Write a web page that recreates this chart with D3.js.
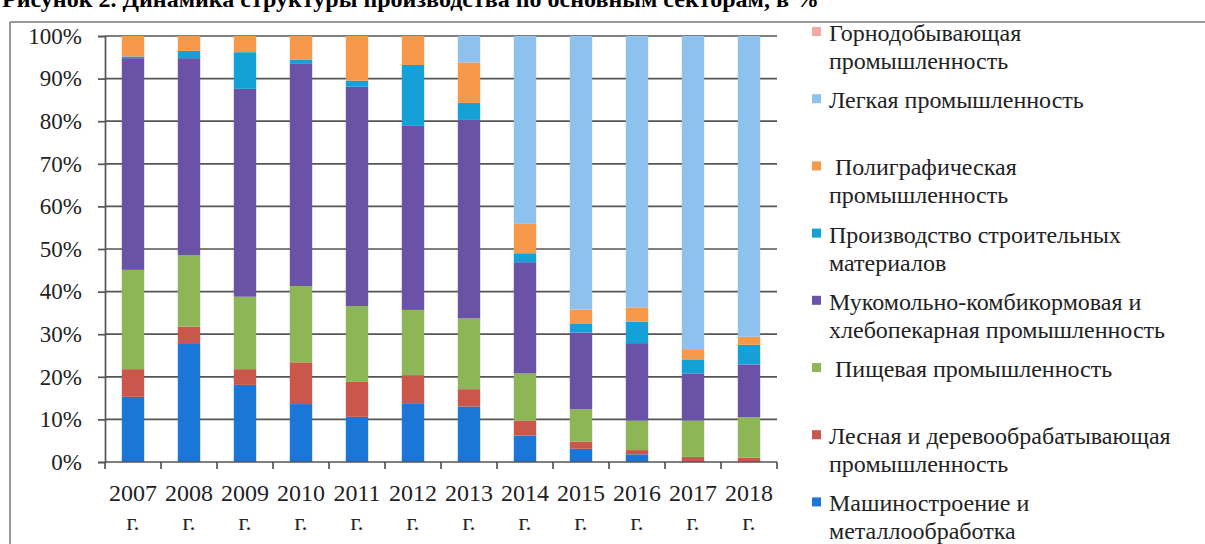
<!DOCTYPE html>
<html>
<head>
<meta charset="utf-8">
<script src="https://cdn.jsdelivr.net/npm/d3@7"></script>
<style>
  body { margin: 0; background: #fff; }
  svg text { font-family: "Liberation Serif", "Times New Roman", serif; }
</style>
</head>
<body>
<div class="chart"></div>
<script>
// DATA ------------------------------------
const years = ["2007", "2008", "2009", "2010", "2011", "2012", "2013", "2014", "2015", "2016", "2017", "2018"];
const machinery = [15.3, 27.9, 18.1, 13.6, 10.6, 13.8, 13.0, 6.2, 3.1, 1.8, 0, 0];
const forestry  = [6.5, 3.9, 3.7, 9.8, 8.2, 6.6, 4.1, 3.5, 1.7, 1.0, 1.2, 1.0];
const food      = [23.3, 16.8, 17.0, 17.9, 17.8, 15.3, 16.6, 11.1, 7.6, 6.9, 8.5, 9.5];
const flour     = [49.7, 46.2, 48.8, 52.3, 51.5, 43.2, 46.6, 26.1, 18.0, 18.2, 11.1, 12.4];
const building  = [0.4, 1.7, 8.6, 0.9, 1.4, 14.3, 4.0, 2.1, 2.0, 5.0, 3.3, 4.6];
const printing  = [4.8, 3.5, 3.8, 5.5, 10.5, 6.8, 9.5, 6.9, 3.4, 3.4, 2.4, 1.9];
const light     = [0, 0, 0, 0, 0, 0, 6.2, 44.1, 64.2, 63.7, 73.5, 70.6];
const mining    = [0, 0, 0, 0, 0, 0, 0, 0, 0, 0, 0, 0];
const yTicks = [0, 0.1, 0.2, 0.3, 0.4, 0.5, 0.6, 0.7, 0.8, 0.9, 1];

// stack order bottom -> top
const series = [
  {key: "machinery", values: machinery, color: "#1b76d7", label: ["Машиностроение и", "металлообработка"]},
  {key: "forestry",  values: forestry,  color: "#c9574c", label: ["Лесная и деревообрабатывающая", "промышленность"]},
  {key: "food",      values: food,      color: "#8db656", label: ["\u00a0Пищевая промышленность"]},
  {key: "flour",     values: flour,     color: "#6a52a6", label: ["Мукомольно-комбикормовая и", "хлебопекарная промышленность"]},
  {key: "building",  values: building,  color: "#15a1d8", label: ["Производство строительных", "материалов"]},
  {key: "printing",  values: printing,  color: "#f6994a", label: ["\u00a0Полиграфическая", "промышленность"]},
  {key: "light",     values: light,     color: "#8ec1ed", label: ["Легкая промышленность"]},
  {key: "mining",    values: mining,    color: "#f3aaa2", label: ["Горнодобывающая", "промышленность"]}
];

const rows = years.map((y, i) => {
  const r = {year: y};
  series.forEach(s => r[s.key] = s.values[i]);
  return r;
});

// CHART INIT ------------------------------
const W = 1205, H = 544;
const plot = {left: 105, right: 777, top: 36, bottom: 462};
const FONT = "Liberation Serif, Times New Roman, serif";

const svg = d3.select(".chart").append("svg")
    .attr("width", W)
    .attr("height", H)
    .style("display", "block");

// frame + title (cut at top like the scan)
svg.append("line").attr("x1", 10).attr("x2", 10).attr("y1", 22).attr("y2", H)
    .attr("stroke", "#777").attr("stroke-width", 1.5);
svg.append("line").attr("x1", 10).attr("x2", W).attr("y1", 22).attr("y2", 22)
    .attr("stroke", "#777").attr("stroke-width", 1.5);
svg.append("text")
    .attr("x", 2).attr("y", 7)
    .attr("font-family", FONT)
    .attr("font-size", 24).attr("font-weight", "bold")
    .text("Рисунок 2. Динамика структуры производства по основным секторам, в %");

const xScale = d3.scaleBand()
    .domain(years)
    .range([plot.left, plot.right])
    .paddingInner(0.6)
    .paddingOuter(0.3);

const yScale = d3.scaleLinear()
    .domain([0, 1])
    .range([plot.bottom, plot.top]);

// gridlines
svg.append("g")
    .selectAll("line")
    .data(yTicks.slice(1))
    .join("line")
    .attr("x1", plot.left).attr("x2", plot.right)
    .attr("y1", d => yScale(d)).attr("y2", d => yScale(d))
    .attr("stroke", "#555").attr("stroke-width", 1.7);

// bars
const stack = d3.stack()
    .keys(series.map(s => s.key))
    .offset(d3.stackOffsetExpand);
const stacked = stack(rows);

svg.append("g")
    .selectAll("g")
    .data(stacked)
    .join("g")
    .attr("fill", (d, i) => series[i].color)
    .selectAll("rect")
    .data(d => d)
    .join("rect")
    .attr("x", d => xScale(d.data.year))
    .attr("width", xScale.bandwidth())
    .attr("y", d => yScale(d[1]))
    .attr("height", d => yScale(d[0]) - yScale(d[1]));

// y axis
const yAxis = svg.append("g")
    .attr("transform", "translate(" + plot.left + ",0)")
    .call(d3.axisLeft(yScale).tickValues(yTicks).tickFormat(d3.format(".0%")).tickSize(7).tickPadding(16))
    .attr("font-family", FONT)
    .attr("font-size", 23);
yAxis.select(".domain").attr("stroke", "#555").attr("stroke-width", 1.7);
yAxis.selectAll(".tick line").attr("stroke", "#555").attr("stroke-width", 1.7);
yAxis.selectAll(".tick text")
    .attr("font-family", FONT)
    .attr("font-size", 23)
    .attr("fill", "#222");

// x axis (ticks at band edges)
const xAxis = svg.append("g")
    .attr("transform", "translate(0," + plot.bottom + ")");
xAxis.append("line")
    .attr("x1", plot.left).attr("x2", plot.right)
    .attr("stroke", "#555").attr("stroke-width", 1.7);
const step = xScale.step();
xAxis.selectAll(".xt")
    .data(d3.range(years.length + 1))
    .join("line")
    .attr("class", "xt")
    .attr("x1", i => plot.left + i * step).attr("x2", i => plot.left + i * step)
    .attr("y1", 0).attr("y2", 7)
    .attr("stroke", "#555").attr("stroke-width", 1.7);

const xl = xAxis.selectAll(".xl")
    .data(years)
    .join("text")
    .attr("class", "xl")
    .attr("text-anchor", "middle")
    .attr("font-family", FONT)
    .attr("font-size", 24)
    .attr("fill", "#222");
xl.append("tspan").attr("x", d => xScale(d) + xScale.bandwidth() / 2).attr("y", 39).text(d => d);
xl.append("tspan").attr("x", d => xScale(d) + xScale.bandwidth() / 2).attr("y", 68).text("г.");

// legend (top -> bottom is reverse of stack)
const legendItems = series.slice().reverse();
const legend = svg.append("g")
    .selectAll("g")
    .data(legendItems)
    .join("g")
    .attr("transform", (d, i) => "translate(812," + (41 + i * 67.2) + ")");

legend.append("rect")
    .attr("x", 0).attr("y", -14)
    .attr("width", 9).attr("height", 9)
    .attr("fill", d => d.color);

legend.append("text")
    .attr("font-family", FONT)
    .attr("font-size", 24)
    .attr("fill", "#222")
    .selectAll("tspan")
    .data(d => d.label)
    .join("tspan")
    .attr("x", 17)
    .attr("y", (d, i) => i * 28)
    .text(d => d);
</script>
</body>
</html>
